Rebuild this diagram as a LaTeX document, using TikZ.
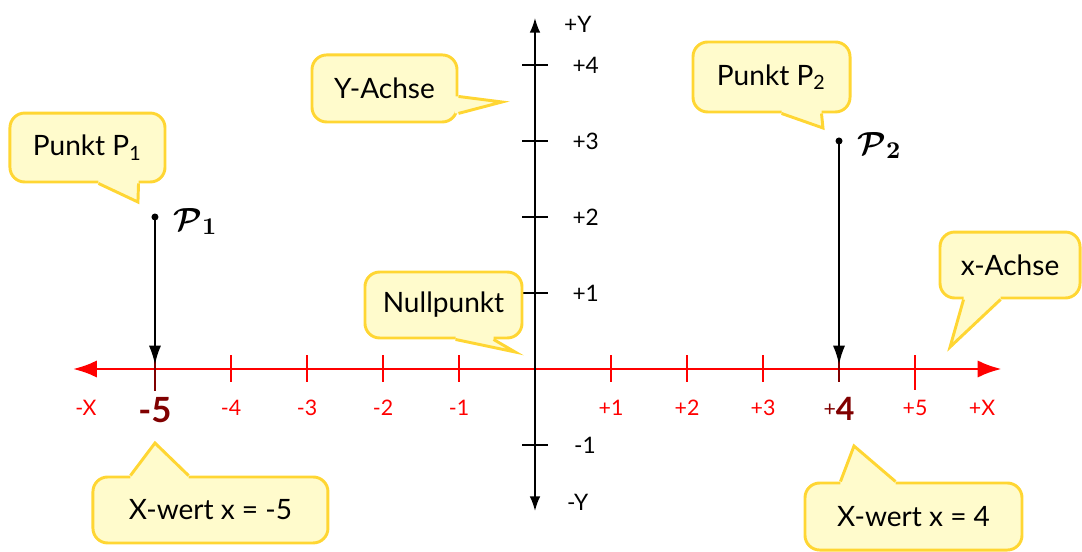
\documentclass[tikz,border=0pt]{standalone}
\usepackage{fontspec}
\setmainfont{Lato}
\usepackage{amsmath,amssymb}
\usetikzlibrary{positioning,arrows.meta,calc}
\definecolor{axisred}{RGB}{255,0,0}
\definecolor{markred}{RGB}{128,0,0}
\definecolor{bubblebg}{RGB}{255,251,204}
\definecolor{bubbleborder}{RGB}{255,214,51}
\tikzset{
  bubble/.style={draw=bubbleborder,fill=bubblebg,line width=1.1pt,
                 rounded corners=5.5pt,inner sep=0pt,
                 font=\fontsize{10.5}{12}\selectfont},
  bubblefill/.style={fill=bubblebg},
  bubbleline/.style={draw=bubbleborder,line width=1.1pt,line join=miter},
  xlab/.style={text=axisred,font=\fontsize{8}{10}\selectfont},
  ylab/.style={anchor=west,font=\fontsize{8.5}{10}\selectfont},
  pointlab/.style={anchor=west,font=\fontsize{13}{15}\selectfont},
}
% pointer of a speech bubble: anchor, two base offsets, tip, inward offset
\newcommand{\bubbletip}[5]{%
  \fill[bubblefill] ($(#1)+(#2)+(#5)$) -- ($(#1)+(#2)$) -- (#4)
    -- ($(#1)+(#3)$) -- ($(#1)+(#3)+(#5)$) -- cycle;
  \draw[bubbleline] ($(#1)+(#2)$) -- (#4) -- ($(#1)+(#3)$);}

\begin{document}
\begin{tikzpicture}
  \useasboundingbox (-7.039,-2.395) rectangle (7.197,4.855);

  % x axis
  \coordinate (xleft) at (-6.08,0);
  \coordinate (xright) at (6.14,0);
  \draw[axisred,line width=1.1pt,
        {Latex[length=9pt,width=6.5pt]}-{Latex[length=9pt,width=6.5pt]}]
    (xleft) -- (xright);
  \foreach \i in {-4,...,-1,1,2,3}
    \draw[axisred,line width=1.1pt] (\i,0.184) -- (\i,-0.171);
  \draw[axisred,line width=1.1pt] (5,0.184) -- (5,-0.276);
  \draw[markred,line width=1.1pt] (-5,0.184) -- (-5,-0.289);
  \draw[markred,line width=1.1pt] (4,0.184) -- (4,-0.171);

  \node[xlab] (xlminus) at (-5.908,-0.51) {-X};
  \node[xlab] (xlplus) at (5.882,-0.51) {+X};
  \foreach \i in {-4,...,-1}
    \node[xlab] (xl\i) at (\i,-0.51) {\i};
  \foreach \i in {1,2,3,5}
    \node[xlab] (xl\i) at (\i,-0.51) {+\i};
  \node[text=markred,font=\fontsize{13}{15}\selectfont\bfseries]
    (xlfive) at (-5,-0.54) {-5};
  \node[text=markred] (xlfour) at (4,-0.53)
    {\raisebox{1.6pt}{\fontsize{8}{10}\selectfont+}\fontsize{12}{14}\selectfont\bfseries 4};

  % y axis
  \coordinate (ybottom) at (0,-1.868);
  \coordinate (ytop) at (0,4.618);
  \draw[line width=0.6pt,
        {Latex[length=5.5pt,width=4pt]}-{Latex[length=5.5pt,width=4pt]}]
    (ybottom) -- (ytop);
  \foreach \j in {-1,1,2,3,4}
    \draw[line width=0.6pt] (-0.17,\j) -- (0.17,\j);
  \foreach \j in {1,2,3,4}
    \node[ylab] (yl\j) at (0.37,\j) {+\j};
  \node[ylab] (ylm1) at (0.39,-1) {-1};
  \node[ylab] (ylplus) at (0.26,4.53) {+Y};
  \node[ylab] (ylminus) at (0.30,-1.75) {-Y};

  % points
  \coordinate (P1) at (-5,2);
  \coordinate (P1foot) at (-5,0.06);
  \coordinate (P2) at (4,3);
  \coordinate (P2foot) at (4,0.06);
  \fill (P1) circle (0.046);
  \fill (P2) circle (0.046);
  \draw[line width=0.6pt,-{Latex[length=7pt,width=4.5pt]}] (P1) -- (P1foot);
  \draw[line width=0.6pt,-{Latex[length=7pt,width=4.5pt]}] (P2) -- (P2foot);
  \node[pointlab] (P1lab) at ([xshift=0.12cm,yshift=-0.06cm]P1)
    {$\boldsymbol{\mathcal{P}}_{\boldsymbol{1}}$};
  \node[pointlab] (P2lab) at ([xshift=0.12cm,yshift=-0.06cm]P2)
    {$\boldsymbol{\mathcal{P}}_{\boldsymbol{2}}$};

  % speech bubbles
  \node[bubble,minimum width=2.04cm,minimum height=0.907cm]
    (p1box) at (-5.888,2.914) {Punkt P\textsubscript{1}};
  \coordinate (p1tip) at (-5.224,2.197);
  \bubbletip{p1box.south west}{1.184,0}{1.711,0}{p1tip}{0,0.05}

  \node[bubble,minimum width=1.908cm,minimum height=0.882cm]
    (yaxbox) at (-1.980,3.691) {Y-Achse};
  \coordinate (yaxtip) at (-0.434,3.513);
  \bubbletip{yaxbox.south east}{0,0.132}{0,0.355}{yaxtip}{-0.05,0}

  \node[bubble,minimum width=2.066cm,minimum height=0.868cm]
    (nullbox) at (-1.204,0.842) {Nullpunkt};
  \coordinate (nulltip) at (-0.263,0.224);
  \bubbletip{nullbox.south west}{1.211,0}{1.711,0}{nulltip}{0,0.05}

  \node[bubble,minimum width=2.066cm,minimum height=0.921cm]
    (p2box) at (3.112,3.842) {Punkt P\textsubscript{2}};
  \coordinate (p2tip) at (3.789,3.171);
  \bubbletip{p2box.south west}{1.184,0}{1.71,0}{p2tip}{0,0.05}

  \node[bubble,minimum width=1.842cm,minimum height=0.868cm]
    (xaxbox) at (6.25,1.368) {x-Achse};
  \coordinate (xaxtip) at (5.461,0.289);
  \bubbletip{xaxbox.south west}{0.329,0}{0.816,0}{xaxtip}{0,0.05}

  \node[bubble,minimum width=3.092cm,minimum height=0.868cm]
    (xw1box) at (-4.270,-1.855) {X-wert x = -5};
  \coordinate (xw1tip) at (-5.0,-0.974);
  \bubbletip{xw1box.north west}{0.513,0}{1.277,0}{xw1tip}{0,-0.05}

  \node[bubble,minimum width=2.855cm,minimum height=0.882cm]
    (xw2box) at (4.98,-1.941) {X-wert x = 4};
  \coordinate (xw2tip) at (4.197,-1.013);
  \bubbletip{xw2box.north west}{0.486,0}{1.21,0}{xw2tip}{0,-0.05}
\end{tikzpicture}
\end{document}
